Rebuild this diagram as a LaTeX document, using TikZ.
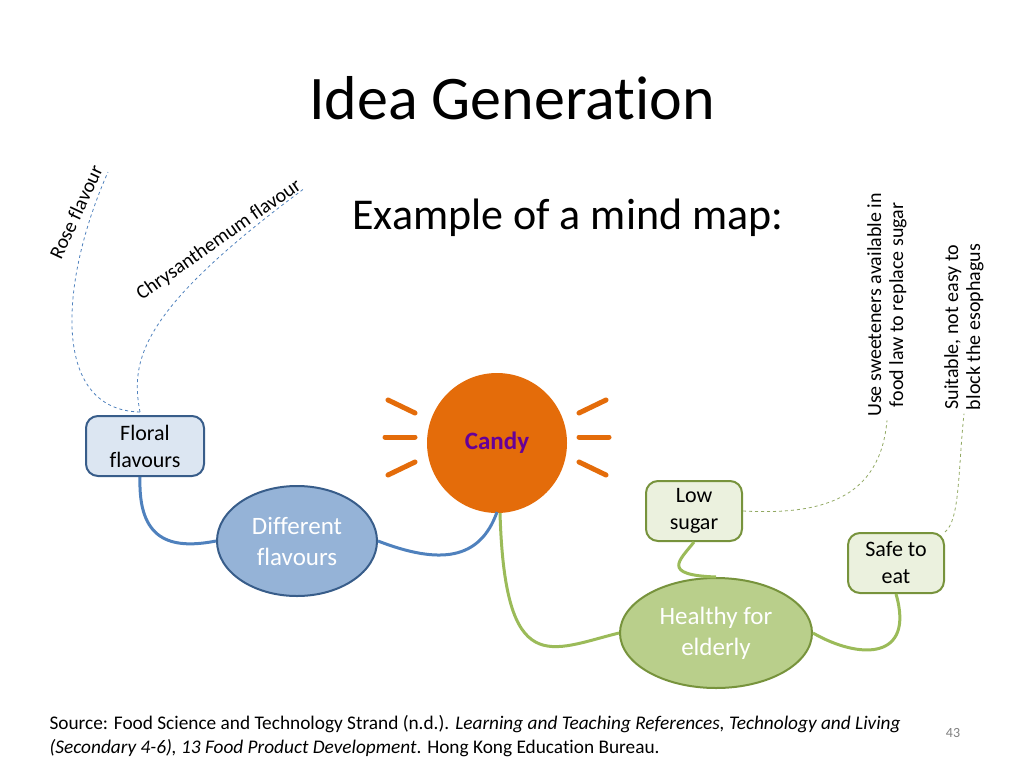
\documentclass[tikz,border=0pt]{standalone}
\usepackage{fontspec}
\setmainfont{Carlito}[Ligatures=NoCommon]
\usetikzlibrary{shapes.geometric}
\definecolor{bl}{HTML}{4F81BD}
\definecolor{dbl}{HTML}{385D8A}
\definecolor{gr}{HTML}{9BBB59}
\definecolor{dgr}{HTML}{77933C}
\definecolor{org}{HTML}{E46C0A}
\tikzset{
 bbox/.style={draw=dbl,line width=2pt,fill=bl!20,rounded corners=12pt,minimum width=118pt,minimum height=60pt,align=center,font=\fontsize{22}{27}\selectfont},
 gbox/.style={draw=dgr,line width=2pt,fill=gr!20,rounded corners=12pt,minimum width=96pt,minimum height=60pt,align=center,font=\fontsize{22}{27}\selectfont},
 bell/.style={ellipse,draw=dbl,line width=2pt,fill=bl!60!white,text=white,minimum width=160pt,minimum height=110pt,align=center,font=\fontsize{25}{31}\selectfont},
 gell/.style={ellipse,draw=dgr,line width=2pt,fill=gr!70!white,text=white,minimum width=192pt,minimum height=110pt,align=center,font=\fontsize{25}{31}\selectfont},
 bline/.style={bl,line width=3pt},
 gline/.style={gr,line width=3pt},
 bdash/.style={bl,dashed,line width=0.8pt},
 gdash/.style={dgr!80,dashed,line width=0.8pt},
 ray/.style={org,line width=5pt,line cap=round},
 small/.style={font=\fontsize{20}{22}\selectfont,align=center}
}
\begin{document}
\begin{tikzpicture}[x=1pt,y=-1pt]
\useasboundingbox (0,0) rectangle (1024,768);
\node[font=\fontsize{62}{68}\selectfont] (title) at (512,98) {Idea Generation};
\node[font=\fontsize{44}{50}\selectfont] (ex) at (568,218) {Example of a mind map:};
\node[circle,fill=org,minimum size=140pt,text=violet!80!blue,font=\fontsize{25}{28}\selectfont\bfseries] (candy) at (497,443) {Candy};
\foreach \d [count=\i] in {-1,1}{
 \draw[ray] (497+\d*109,400) -- (497+\d*82,413);
 \draw[ray] (497+\d*112,437) -- (497+\d*82,437);
 \draw[ray] (497+\d*109,475) -- (497+\d*82,462);
}
\node[bbox] (floral) at (145,446) {Floral\\flavours};
\node[bell] (diff) at (297,541) {Different\\flavours};
\node[gbox] (low) at (694,511) {Low\\sugar};
\node[gbox] (safe) at (896,563) {Safe to\\eat};
\node[gell] (healthy) at (716,633) {Healthy for\\elderly};
\node[small,rotate=65] (rose) at (76,212) {Rose flavour};
\node[small,rotate=35] (chrys) at (219,240) {Chrysanthemum flavour};
\node[small,rotate=90] (sweet) at (887,305) {Use sweeteners available in\\food law to replace sugar};
\node[small,rotate=90] (suit) at (964,327) {Suitable, not easy to\\block the esophagus};
\coordinate (fl) at (140,412);
\coordinate (re) at (108,172);
\coordinate (ce) at (305,188);
\draw[bline] (140,477) .. controls (138,540) and (170,550) .. (diff.west);
\draw[bline] (diff.east) .. controls (440,565) and (480,560) .. (497,512);
\draw[gline] (500,513) .. controls (505,680) and (550,650) .. (healthy.west);
\draw[gline] (low.south) .. controls (680,560) and (660,575) .. (healthy.north);
\draw[gline] (healthy.east) .. controls (860,660) and (915,660) .. (safe.south);
\draw[bdash] (fl) .. controls (50,410) and (60,280) .. (re);
\draw[bdash] (fl) .. controls (130,360) and (140,310) .. (ce);
\draw[gdash] (low.east) .. controls (820,515) and (880,500) .. (sweet.west);
\draw[gdash] (safe.north east) .. controls (960,520) and (958,470) .. (suit.west);
\node[anchor=west,font=\fontsize{19.3}{24}\selectfont,align=left] (src) at (46,736) {Source: Food Science and Technology Strand (n.d.). \textit{Learning and Teaching References, Technology and Living}\\\textit{(Secondary 4-6), 13 Food Product Development}. Hong Kong Education Bureau.};
\node[text=gray,font=\fontsize{14}{16}\selectfont] (pg) at (953,733) {43};
\end{tikzpicture}
\end{document}
